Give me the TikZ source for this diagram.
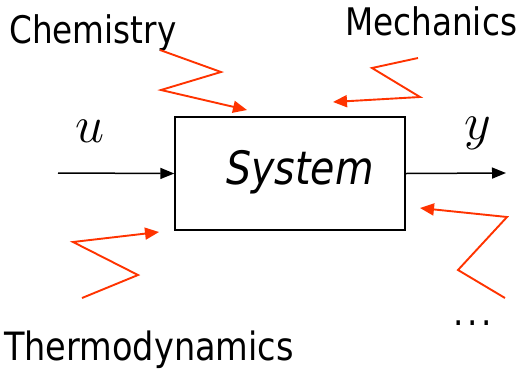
\RequirePackage{fix-cm}
\documentclass[tikz,border=0pt]{standalone}
\usepackage{fontspec}
\setmainfont{DejaVu Sans}[FakeStretch=0.86]
\usepackage{tikz}
\usetikzlibrary{arrows.meta,positioning}
\definecolor{zapred}{HTML}{FF3300}
\definecolor{sigdark}{HTML}{000000}

\begin{document}
\begin{tikzpicture}[
    x=1pt, y=-1pt,
    sysbox/.style={draw=sigdark, line width=1.4pt, minimum width=230pt,
                   minimum height=113pt, inner sep=0pt},
    syslbl/.style={font=\fontsize{46}{52}\selectfont\itshape, inner sep=0pt},
    field/.style={font=\fontsize{38}{44}\selectfont, inner sep=0pt, anchor=base west},
    mathlbl/.style={font=\fontsize{52}{60}\selectfont, inner sep=0pt, anchor=base},
    sig/.style={-{Triangle[length=14pt, width=11pt]}, sigdark, line width=1.5pt},
    zap/.style={-{Triangle[length=14pt, width=12pt]}, zapred, line width=1.9pt,
                line join=miter},
  ]
  \useasboundingbox (0,0) rectangle (518,370);

  \node[sysbox] (sys) at (290,173.5) {};
  \node[syslbl] (sysname) at (300,172) {System};

  % Signals in and out
  \coordinate (in)  at (58,173);
  \coordinate (out) at (506,173);
  \draw[sig] (in) -- (sys.west);
  \draw[sig] (sys.east) -- (out);
  \node[mathlbl] (ulbl) at (90,142) {$u$};
  \node[mathlbl] (ylbl) at (478,139) {$y$};

  % Fields acting on the system
  \node[field] (chem)   at (9,43)   {Chemistry};
  \node[field] (mech)   at (345,35) {Mechanics};
  \node[field, font=\fontsize{39}{44}\selectfont] (thermo) at (4,360) {Thermodynamics};
  \node[field] (more)   at (453,325) {.\kern4pt.\kern4pt.};

  % Zigzag arrows
  \coordinate (chemtip)   at (247,110);
  \coordinate (mechtip)   at (333,102);
  \coordinate (thermotip) at (159,232);
  \coordinate (moretip)   at (420,208);
  \draw[zap] (160,50) -- (221,72) -- (161,90) -- (chemtip);
  \draw[zap] (418,58) -- (372,68) -- (420,97) -- (mechtip);
  \draw[zap] (82,298) -- (138,275) -- (73,242) -- (thermotip);
  \draw[zap] (505,298) -- (458,270) -- (507,217) -- (moretip);
\end{tikzpicture}
\end{document}
